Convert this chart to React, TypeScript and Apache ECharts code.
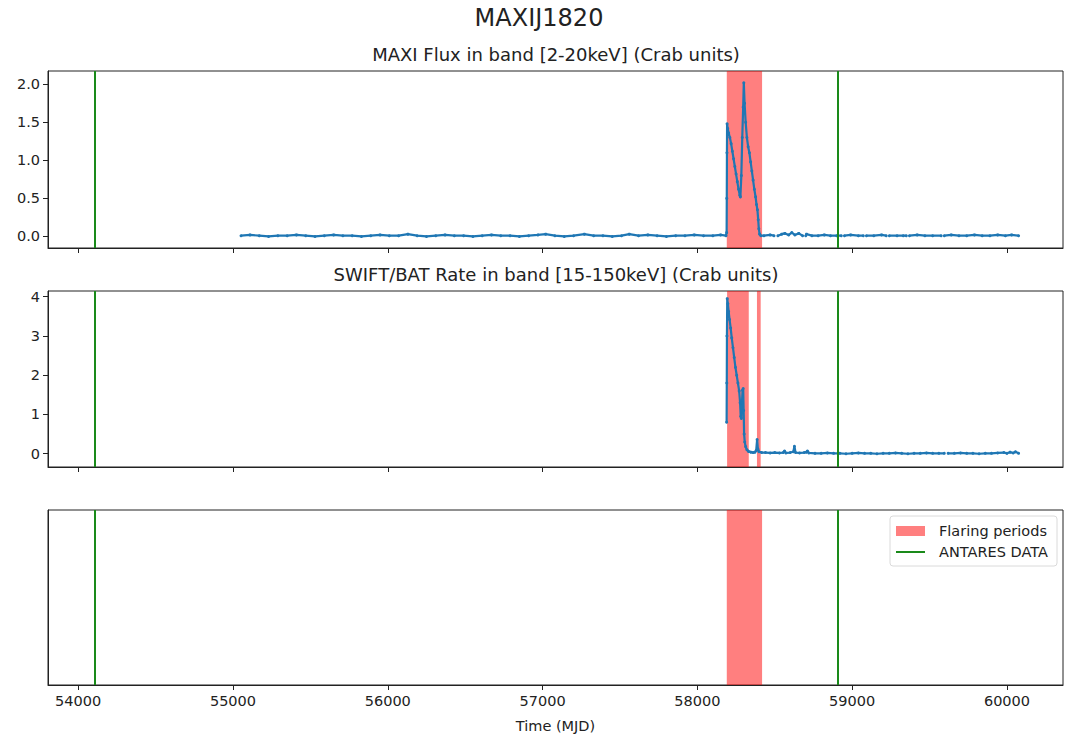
import React, { useEffect, useRef } from "react";
import * as echarts from "echarts";

// ---------- data ----------
const xTicks = [54000, 55000, 56000, 57000, 58000, 59000, 60000];
const maxiTicks = [0, 0.5, 1.0, 1.5, 2.0];
const batTicks = [0, 1, 2, 3, 4];
const antaresDates = [54105, 58909];
const maxiFlares = [[58190, 58418]];
const batFlares = [[58192, 58332], [58385, 58409]];
const combinedFlares = [[58190, 58418]];

const maxiPoints: [number, number | null][] = [
  [55052, 0.01], [55110, 0.02], [55170, 0.01], [55230, 0.0], [55290, 0.01], [55350, 0.01],
  [55410, 0.02], [55470, 0.01], [55530, 0.0], [55590, 0.01], [55650, 0.02], [55710, 0.01],
  [55770, 0.01], [55830, 0.0], [55890, 0.01], [55950, 0.02], [56010, 0.01], [56070, 0.01],
  [56130, 0.03], [56190, 0.01], [56250, 0.0], [56310, 0.01], [56370, 0.02], [56430, 0.01],
  [56490, 0.01], [56550, 0.0], [56610, 0.01], [56670, 0.02], [56730, 0.01], [56790, 0.01],
  [56850, 0.0], [56910, 0.01], [56970, 0.02], [57020, 0.03], [57080, 0.01], [57140, 0.0],
  [57200, 0.01], [57270, 0.03], [57330, 0.01], [57390, 0.01], [57450, 0.0], [57510, 0.01],
  [57560, 0.03], [57620, 0.01], [57680, 0.02], [57740, 0.01], [57800, 0.0], [57860, 0.01],
  [57920, 0.01], [57980, 0.02], [58040, 0.01], [58100, 0.01], [58150, 0.02], [58185, 0.01],
  [58189, 0.05], [58190, 0.5], [58191, 1.1], [58192, 1.48], [58196, 1.42], [58202, 1.36],
  [58210, 1.3], [58218, 1.22], [58226, 1.12], [58234, 1.02], [58242, 0.92], [58250, 0.82],
  [58258, 0.72], [58266, 0.62], [58274, 0.54], [58278, 0.52], [58284, 0.8], [58290, 1.3],
  [58296, 1.7], [58300, 2.02], [58305, 1.75], [58312, 1.5], [58320, 1.3], [58328, 1.18],
  [58336, 1.1], [58344, 0.98], [58352, 0.86], [58360, 0.74], [58368, 0.62], [58376, 0.52],
  [58382, 0.42], [58388, 0.35], [58393, 0.22], [58397, 0.1], [58402, 0.03], [58410, 0.01],
  [58430, 0.01], [58470, 0.02], [58495, 0.01], [58505, null], [58520, 0.01], [58545, 0.03],
  [58565, 0.04], [58590, 0.02], [58610, 0.05], [58630, 0.02], [58655, 0.04], [58680, 0.01],
  [58690, null], [58700, 0.01], [58705, 0.03], [58740, 0.01], [58780, 0.01], [58820, 0.02],
  [58860, 0.01], [58900, 0.01], [58930, 0.01], [58940, null], [58950, 0.01], [58990, 0.02],
  [59040, 0.01], [59072, 0.01], [59082, null], [59092, 0.01], [59140, 0.01], [59190, 0.02],
  [59220, 0.01], [59230, null], [59240, 0.01], [59290, 0.01], [59330, 0.01], [59350, 0.01],
  [59360, null], [59370, 0.01], [59420, 0.02], [59470, 0.01], [59520, 0.01], [59575, 0.01],
  [59585, null], [59595, 0.01], [59640, 0.02], [59690, 0.01], [59740, 0.01], [59790, 0.02],
  [59840, 0.01], [59890, 0.01], [59940, 0.02], [59990, 0.01], [60030, 0.02], [60075, 0.01],
];

const batPoints: [number, number | null][] = [
  [58189, 0.8], [58190, 1.8], [58191, 3.0], [58193, 3.95], [58197, 3.82], [58202, 3.62],
  [58208, 3.42], [58215, 3.2], [58222, 2.95], [58230, 2.7], [58238, 2.45], [58246, 2.2],
  [58254, 2.0], [58262, 1.8], [58270, 1.6], [58276, 1.3], [58280, 0.95], [58284, 0.9],
  [58288, 1.3], [58292, 1.62], [58296, 1.66], [58299, 1.1], [58302, 0.5], [58306, 0.3],
  [58312, 0.18], [58320, 0.1], [58330, 0.06], [58345, 0.04], [58360, 0.03], [58372, 0.04],
  [58380, 0.08], [58386, 0.36], [58391, 0.12], [58398, 0.05], [58415, 0.03], [58440, 0.03],
  [58470, 0.02], [58500, 0.03], [58530, 0.02], [58555, 0.03], [58563, 0.07], [58572, 0.02],
  [58600, 0.03], [58620, 0.05], [58627, 0.19], [58634, 0.03], [58660, 0.02], [58690, 0.03],
  [58705, 0.04], [58711, 0.07], [58720, 0.02], [58760, 0.01], [58800, 0.01], [58840, 0.02],
  [58880, 0.01], [58920, 0.01], [58960, 0.0], [59000, 0.01], [59040, 0.02], [59080, 0.01],
  [59120, 0.01], [59160, 0.0], [59200, 0.01], [59240, 0.01], [59280, 0.02], [59320, 0.01],
  [59360, 0.0], [59400, 0.01], [59440, 0.01], [59480, 0.02], [59520, 0.01], [59560, 0.01],
  [59595, 0.01], [59605, null], [59620, 0.01], [59660, 0.01], [59700, 0.02], [59740, 0.01],
  [59780, 0.01], [59820, 0.0], [59860, 0.01], [59900, 0.01], [59940, 0.02], [59980, 0.03],
  [60000, 0.01], [60020, 0.04], [60040, 0.02], [60055, 0.05], [60075, 0.01],
];

// ---------- styling ----------
const FONT = "DejaVu Sans";
const INK = "#222";
const BLUE = "#1f77b4";
const RED = "rgba(255,0,0,0.5)";
const GREEN = "#1a8a1a";
const TICK_FS = 14.5;

const X_MIN = 53805;
const X_MAX = 60362;

const grids = [
  { left: 48, width: 1015, top: 71, height: 177 },
  { left: 48, width: 1015, top: 291, height: 176 },
  { left: 48, width: 1015, top: 510, height: 177 },
];

function makeXAxis(i: number, showLabels: boolean) {
  return {
    type: "value",
    gridIndex: i,
    min: X_MIN,
    max: X_MAX,
    axisLine: { show: true, onZero: false, lineStyle: { color: INK, width: 1 } },
    axisTick: { show: true, customValues: xTicks, length: 5, lineStyle: { color: INK } },
    axisLabel: {
      show: showLabels,
      customValues: xTicks,
      fontSize: TICK_FS,
      fontFamily: FONT,
      color: INK,
      margin: 8,
      formatter: (v: number) => String(v),
    },
    splitLine: { show: false },
    ...(showLabels
      ? {
          name: "Time (MJD)",
          nameLocation: "middle",
          nameGap: 33,
          nameTextStyle: { fontSize: TICK_FS, fontFamily: FONT, color: INK },
        }
      : {}),
  };
}

function makeYAxis(i: number, min: number, max: number, ticks: number[] | null, digits: number) {
  return {
    type: "value",
    gridIndex: i,
    min,
    max,
    axisLine: { show: true, onZero: false, lineStyle: { color: INK, width: 1 } },
    axisTick: ticks
      ? { show: true, customValues: ticks, length: 5, lineStyle: { color: INK } }
      : { show: false },
    axisLabel: ticks
      ? {
          show: true,
          customValues: ticks,
          fontSize: TICK_FS,
          fontFamily: FONT,
          color: INK,
          margin: 8,
          formatter: (v: number) => v.toFixed(digits),
        }
      : { show: false },
    splitLine: { show: false },
  };
}

function markerSeries(i: number, flares: number[][]) {
  return {
    type: "line",
    xAxisIndex: i,
    yAxisIndex: i,
    data: [],
    z: 1,
    silent: true,
    markArea: {
      silent: true,
      itemStyle: { color: RED },
      data: flares.map(([a, b]) => [{ xAxis: a }, { xAxis: b }]),
    },
    markLine: {
      silent: true,
      symbol: ["none", "none"],
      label: { show: false },
      lineStyle: { color: GREEN, width: 2, type: "solid" },
      data: antaresDates.map((d) => ({ xAxis: d })),
    },
  };
}

function dataSeries(i: number, pts: [number, number | null][]) {
  return {
    type: "line",
    xAxisIndex: i,
    yAxisIndex: i,
    data: pts,
    z: 3,
    connectNulls: false,
    symbol: "circle",
    symbolSize: 3,
    showSymbol: true,
    lineStyle: { color: BLUE, width: 2.2 },
    itemStyle: { color: BLUE },
  };
}

export default function App() {
  const ref = useRef<HTMLDivElement>(null);
  useEffect(() => {
    if (!ref.current) return;
    const chart = echarts.init(ref.current, null, { renderer: "svg" });
    const textStyle = (size: number) => ({ fontSize: size, fontFamily: FONT, fill: INK, align: "center", verticalAlign: "middle" });
    const legendText = { fontSize: 14.5, fontFamily: FONT, fill: INK, align: "left", verticalAlign: "middle" };
    chart.setOption({
      animation: false,
      backgroundColor: "#fff",
      grid: grids.map((g) => ({ ...g, show: true, borderColor: INK, borderWidth: 1, backgroundColor: "transparent" })),
      xAxis: [makeXAxis(0, false), makeXAxis(1, false), makeXAxis(2, true)],
      yAxis: [
        makeYAxis(0, -0.152, 2.175, maxiTicks, 1),
        makeYAxis(1, -0.338, 4.145, batTicks, 0),
        makeYAxis(2, 0, 1, null, 0),
      ],
      series: [
        markerSeries(0, maxiFlares),
        markerSeries(1, batFlares),
        markerSeries(2, combinedFlares),
        dataSeries(0, maxiPoints),
        dataSeries(1, batPoints),
      ],
      graphic: [
        { type: "text", x: 539, y: 18, style: { text: "MAXIJ1820", ...textStyle(24) } },
        { type: "text", x: 556, y: 54, style: { text: "MAXI Flux in band [2-20keV] (Crab units)", ...textStyle(18) } },
        { type: "text", x: 556, y: 274.5, style: { text: "SWIFT/BAT Rate in band [15-150keV] (Crab units)", ...textStyle(18) } },
        {
          type: "rect",
          z: 100,
          shape: { x: 890, y: 516, width: 167, height: 50, r: 3 },
          style: { fill: "rgba(255,255,255,0.8)", stroke: "#dadada", lineWidth: 1 },
        },
        { type: "rect", z: 101, shape: { x: 896, y: 526, width: 29, height: 10 }, style: { fill: RED } },
        { type: "text", z: 101, x: 939, y: 531, style: { text: "Flaring periods", ...legendText } },
        { type: "line", z: 101, shape: { x1: 896, y1: 552, x2: 925, y2: 552 }, style: { stroke: GREEN, lineWidth: 2 } },
        { type: "text", z: 101, x: 939, y: 552, style: { text: "ANTARES DATA", ...legendText } },
      ],
    });
    return () => chart.dispose();
  }, []);
  return (
    <div
      ref={ref}
      style={{ position: "fixed", left: 0, top: 0, width: 1068, height: 734, background: "#fff" }}
    />
  );
}
